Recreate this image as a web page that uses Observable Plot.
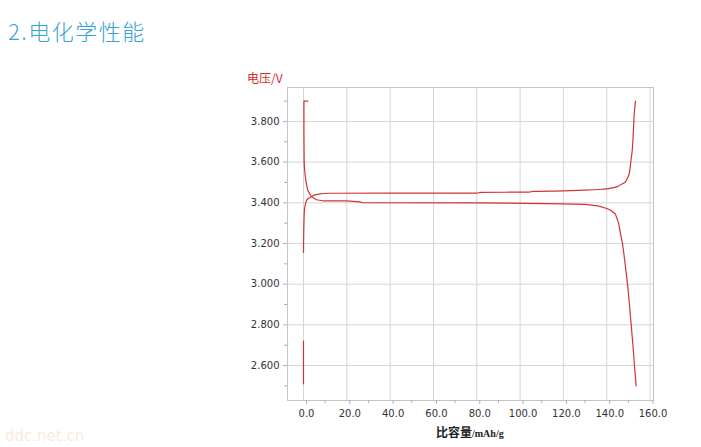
<!DOCTYPE html>
<html>
<head>
<meta charset="utf-8">
<script src="https://cdn.jsdelivr.net/npm/d3@7"></script>
<script src="https://cdn.jsdelivr.net/npm/@observablehq/plot@0.6"></script>
<style>
  html, body { margin: 0; padding: 0; background: #fff; }
  #wrap { position: relative; width: 701px; height: 447px; overflow: hidden; }
  #wrap svg { position: absolute; left: 0; top: 0; }
  .lbl { position: absolute; white-space: nowrap; }
  #title { left: 8px; top: 14px; font: 300 22px "Noto Sans CJK SC", "Noto Sans", sans-serif; letter-spacing: 1.5px; color: #35a3d6; }
  #ylab { left: 247px; top: 69px; font: 12px "Noto Sans CJK SC", sans-serif; color: #d42a2a; }
  #xlab { left: 436px; top: 423px; font: bold 12px "Noto Sans CJK SC", sans-serif; color: #222; }
  #xlab span { font: bold 10px "Liberation Serif", serif; }
  #wm { left: 5px; top: 427px; font: 15px "DejaVu Sans", sans-serif; color: #fce9dc; }
</style>
</head>
<body>
<div id="wrap">
  <div id="chart"></div>
  <div class="lbl" id="title">2.电化学性能</div>
  <div class="lbl" id="ylab">电压/V</div>
  <div class="lbl" id="xlab">比容量<span>/mAh/g</span></div>
  <div class="lbl" id="wm">ddc.net.cn</div>
</div>
<script>
// Tick values
const xTicks = [0, 20, 40, 60, 80, 100, 120, 140, 160];
const xMinor = [10, 30, 50, 70, 90, 110, 130, 150];
const yTicks = [2.6, 2.8, 3.0, 3.2, 3.4, 3.6, 3.8];
const yMinor = [2.5, 2.7, 2.9, 3.1, 3.3, 3.5, 3.7, 3.9];

// Charge curve (specific capacity mAh/g, voltage V)
const chargeCap = [0, 0.2, 0.4, 1, 2, 3.7, 5, 7.8, 12, 40, 80, 82, 104, 106, 120, 130, 138.4, 142, 144.5, 146.5, 148.4, 149.5, 150.4, 151.1, 151.7, 152.3, 152.8, 153.3];
const chargeV   = [3.156, 3.30, 3.36, 3.40, 3.42, 3.43, 3.438, 3.444, 3.447, 3.448, 3.448, 3.451, 3.453, 3.456, 3.459, 3.462, 3.467, 3.472, 3.478, 3.49, 3.50, 3.52, 3.543, 3.60, 3.65, 3.75, 3.85, 3.90];

// Discharge curve
const dischCap = [2, 0.2, 0.2, 0.3, 0.6, 1.2, 2, 3.7, 6, 9, 20, 26, 27, 80, 120, 130, 136, 140, 142, 144, 145.5, 146.5, 147.3, 148.5, 149.6, 150.5, 151.3, 152.1, 152.8, 153.6];
const dischV   = [3.90, 3.90, 3.75, 3.60, 3.55, 3.50, 3.46, 3.43, 3.415, 3.41, 3.41, 3.405, 3.401, 3.40, 3.395, 3.392, 3.385, 3.372, 3.362, 3.345, 3.30, 3.24, 3.20, 3.10, 3.00, 2.90, 2.80, 2.70, 2.60, 2.50];

// Rest segment at zero capacity
const restCap = [0, 0];
const restV   = [2.72, 2.51];

const charge = chargeCap.map((c, i) => ({c, v: chargeV[i]}));
const disch  = dischCap.map((c, i) => ({c, v: dischV[i]}));
const rest   = restCap.map((c, i) => ({c, v: restV[i]}));

const red = "#d23434";
const tickFont = {fontSize: 10, fill: "#333"};

const plot = Plot.plot({
  width: 701,
  height: 447,
  marginLeft: 287,
  marginRight: 48,
  marginTop: 87,
  marginBottom: 47,
  style: {fontFamily: "DejaVu Sans, sans-serif", background: "transparent"},
  x: {domain: [-7.39, 161.6]},
  y: {domain: [2.428, 3.967]},
  marks: [
    Plot.gridX(xTicks, {stroke: "#d6d6d6", strokeOpacity: 1}),
    Plot.gridY(yTicks, {stroke: "#d6d6d6", strokeOpacity: 1}),
    Plot.frame({stroke: "#c4c4c4"}),
    Plot.axisY(yTicks, {tickSize: 4, stroke: "#b0b0b0", tickFormat: d3.format(".3f"), tickPadding: 4, label: null, ...tickFont}),
    Plot.axisY(yMinor, {tickSize: 3, stroke: "#b0b0b0", tickFormat: () => "", label: null}),
    Plot.axisX(xTicks, {tickSize: 4, stroke: "#b0b0b0", tickFormat: d3.format(".1f"), tickPadding: 5, dx: 3, label: null, ...tickFont}),
    Plot.axisX(xMinor, {tickSize: 3, stroke: "#b0b0b0", tickFormat: () => "", label: null}),
    Plot.line(rest, {x: "c", y: "v", stroke: red, strokeWidth: 1.2}),
    Plot.line(charge, {x: "c", y: "v", stroke: red, strokeWidth: 1.2, curve: "monotone-y"}),
    Plot.line(disch, {x: "c", y: "v", stroke: red, strokeWidth: 1.2})
  ]
});
document.getElementById("chart").appendChild(plot);
</script>
</body>
</html>
